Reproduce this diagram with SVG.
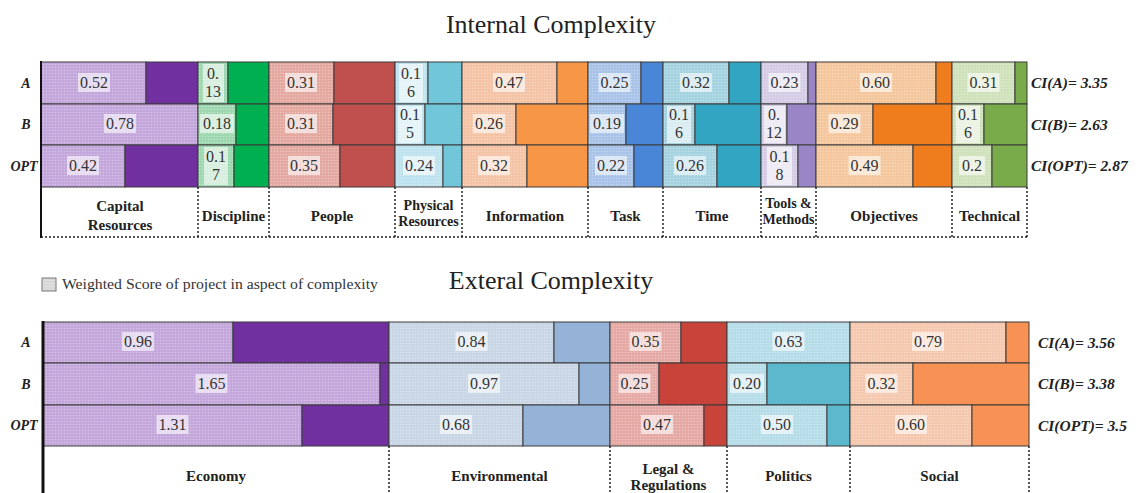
<svg xmlns="http://www.w3.org/2000/svg" width="1145" height="493" viewBox="0 0 1145 493">
<defs>
<style>
.s{stroke:#3a3a3a;stroke-width:1}
.hl{fill:#ffffff;fill-opacity:.6}
.v{font-family:"Liberation Serif","Times New Roman",serif;font-size:16px;fill:#333;text-anchor:middle}
.cat{font-family:"Liberation Serif","Times New Roman",serif;font-size:15px;font-weight:bold;fill:#222;text-anchor:middle}
.sm{font-size:14px}
.rl{font-family:"Liberation Serif","Times New Roman",serif;font-size:14px;font-weight:bold;font-style:italic;fill:#222;text-anchor:middle}
.ci{font-family:"Liberation Serif","Times New Roman",serif;font-size:15.5px;font-weight:bold;font-style:italic;fill:#222}
.ttl{font-family:"Liberation Serif","Times New Roman",serif;font-size:26px;fill:#222;text-anchor:middle}
.dot{stroke:#222;stroke-width:1.5;stroke-dasharray:2 2;fill:none}
</style>
<pattern id="pCap" width="3" height="3" patternUnits="userSpaceOnUse"><rect width="3" height="3" fill="#c4a8dc"/><circle cx="1.5" cy="1.5" r=".6" fill="#fff" fill-opacity=".45"/></pattern>
<pattern id="pDis" width="3" height="3" patternUnits="userSpaceOnUse"><rect width="3" height="3" fill="#9fd8b0"/><circle cx="1.5" cy="1.5" r=".6" fill="#fff" fill-opacity=".45"/></pattern>
<pattern id="pPeo" width="3" height="3" patternUnits="userSpaceOnUse"><rect width="3" height="3" fill="#e4aaa2"/><circle cx="1.5" cy="1.5" r=".6" fill="#fff" fill-opacity=".45"/></pattern>
<pattern id="pPhy" width="3" height="3" patternUnits="userSpaceOnUse"><rect width="3" height="3" fill="#bfe3ee"/><circle cx="1.5" cy="1.5" r=".6" fill="#fff" fill-opacity=".45"/></pattern>
<pattern id="pInf" width="3" height="3" patternUnits="userSpaceOnUse"><rect width="3" height="3" fill="#f5c4a6"/><circle cx="1.5" cy="1.5" r=".6" fill="#fff" fill-opacity=".45"/></pattern>
<pattern id="pTas" width="3" height="3" patternUnits="userSpaceOnUse"><rect width="3" height="3" fill="#a9c4e8"/><circle cx="1.5" cy="1.5" r=".6" fill="#fff" fill-opacity=".45"/></pattern>
<pattern id="pTim" width="3" height="3" patternUnits="userSpaceOnUse"><rect width="3" height="3" fill="#a5d3e0"/><circle cx="1.5" cy="1.5" r=".6" fill="#fff" fill-opacity=".45"/></pattern>
<pattern id="pToo" width="3" height="3" patternUnits="userSpaceOnUse"><rect width="3" height="3" fill="#d5cde6"/><circle cx="1.5" cy="1.5" r=".6" fill="#fff" fill-opacity=".45"/></pattern>
<pattern id="pObj" width="3" height="3" patternUnits="userSpaceOnUse"><rect width="3" height="3" fill="#f5c79e"/><circle cx="1.5" cy="1.5" r=".6" fill="#fff" fill-opacity=".45"/></pattern>
<pattern id="pTec" width="3" height="3" patternUnits="userSpaceOnUse"><rect width="3" height="3" fill="#d0e2bc"/><circle cx="1.5" cy="1.5" r=".6" fill="#fff" fill-opacity=".45"/></pattern>
<pattern id="pEnv" width="3" height="3" patternUnits="userSpaceOnUse"><rect width="3" height="3" fill="#c9d6e6"/><circle cx="1.5" cy="1.5" r=".6" fill="#fff" fill-opacity=".45"/></pattern>
<pattern id="pLeg" width="3" height="3" patternUnits="userSpaceOnUse"><rect width="3" height="3" fill="#e6aaa6"/><circle cx="1.5" cy="1.5" r=".6" fill="#fff" fill-opacity=".45"/></pattern>
<pattern id="pPol" width="3" height="3" patternUnits="userSpaceOnUse"><rect width="3" height="3" fill="#b6dde8"/><circle cx="1.5" cy="1.5" r=".6" fill="#fff" fill-opacity=".45"/></pattern>
<pattern id="pSoc" width="3" height="3" patternUnits="userSpaceOnUse"><rect width="3" height="3" fill="#f5c9b0"/><circle cx="1.5" cy="1.5" r=".6" fill="#fff" fill-opacity=".45"/></pattern>
<pattern id="pLeg2" width="3" height="3" patternUnits="userSpaceOnUse"><rect width="3" height="3" fill="#d8d8d8"/><circle cx="1.5" cy="1.5" r=".6" fill="#fff" fill-opacity=".6"/></pattern>
</defs>
<rect width="1145" height="493" fill="#fff"/>

<text class="ttl" x="551" y="33">Internal Complexity</text>
<text class="ttl" x="551" y="289">Exteral Complexity</text>

<g id="legend">
<rect x="42" y="278" width="14" height="13" fill="url(#pLeg2)" stroke="#777" stroke-width="1"/>
<text x="62" y="289" font-family="'Liberation Serif','Times New Roman',serif" font-size="15" fill="#333" textLength="316" lengthAdjust="spacingAndGlyphs">Weighted Score of project in aspect of complexity</text>
</g>

<g id="row-labels">
<text class="rl" x="26" y="88">A</text>
<text class="rl" x="26" y="129">B</text>
<text class="rl" x="24" y="171">OPT</text>
<text class="rl" x="26" y="347">A</text>
<text class="rl" x="26" y="389">B</text>
<text class="rl" x="24" y="430">OPT</text>
</g>

<g id="ci-labels">
<text class="ci" x="1031" y="88">CI(A)= 3.35</text>
<text class="ci" x="1031" y="130">CI(B)= 2.63</text>
<text class="ci" x="1031" y="171">CI(OPT)= 2.87</text>
<text class="ci" x="1038" y="348">CI(A)= 3.56</text>
<text class="ci" x="1038" y="389">CI(B)= 3.38</text>
<text class="ci" x="1038" y="431">CI(OPT)= 3.5</text>
</g>

<!-- Internal complexity -->
<g id="capital-resources">
<rect class="s" x="41" y="62" width="105" height="42" fill="url(#pCap)"/><rect class="s" x="146" y="62" width="52" height="42" fill="#7030a0"/>
<rect class="s" x="41" y="104" width="157" height="41" fill="url(#pCap)"/>
<rect class="s" x="41" y="145" width="84" height="42" fill="url(#pCap)"/><rect class="s" x="125" y="145" width="73" height="42" fill="#7030a0"/>
<rect class="hl" x="78" y="73" width="32" height="19"/><text class="v" x="94" y="88">0.52</text>
<rect class="hl" x="104" y="114" width="32" height="19"/><text class="v" x="120" y="129">0.78</text>
<rect class="hl" x="67" y="156" width="32" height="19"/><text class="v" x="83" y="171">0.42</text>
<text class="cat" x="120" y="211">Capital</text><text class="cat" x="120" y="230">Resources</text>
</g>

<g id="discipline">
<rect class="s" x="198" y="62" width="30" height="42" fill="url(#pDis)"/><rect class="s" x="228" y="62" width="41" height="42" fill="#00b050"/>
<rect class="s" x="198" y="104" width="38" height="41" fill="url(#pDis)"/><rect class="s" x="236" y="104" width="33" height="41" fill="#00b050"/>
<rect class="s" x="198" y="145" width="36" height="42" fill="url(#pDis)"/><rect class="s" x="234" y="145" width="35" height="42" fill="#00b050"/>
<rect class="hl" x="203" y="64" width="21" height="38"/><text class="v" x="213" y="79">0.</text><text class="v" x="213" y="97">13</text>
<rect class="hl" x="200" y="114" width="34" height="19"/><text class="v" x="217" y="129">0.18</text>
<rect class="hl" x="204" y="147" width="24" height="38"/><text class="v" x="216" y="162">0.1</text><text class="v" x="216" y="180">7</text>
<text class="cat" x="233.5" y="221">Discipline</text>
</g>

<g id="people">
<rect class="s" x="269" y="62" width="65" height="42" fill="url(#pPeo)"/><rect class="s" x="334" y="62" width="61" height="42" fill="#c0504d"/>
<rect class="s" x="269" y="104" width="64" height="41" fill="url(#pPeo)"/><rect class="s" x="333" y="104" width="62" height="41" fill="#c0504d"/>
<rect class="s" x="269" y="145" width="71" height="42" fill="url(#pPeo)"/><rect class="s" x="340" y="145" width="55" height="42" fill="#c0504d"/>
<rect class="hl" x="285" y="73" width="32" height="19"/><text class="v" x="301" y="88">0.31</text>
<rect class="hl" x="285" y="114" width="32" height="19"/><text class="v" x="301" y="129">0.31</text>
<rect class="hl" x="288" y="156" width="32" height="19"/><text class="v" x="304" y="171">0.35</text>
<text class="cat" x="332" y="221">People</text>
</g>

<g id="physical-resources">
<rect class="s" x="395" y="62" width="33" height="42" fill="url(#pPhy)"/><rect class="s" x="428" y="62" width="34" height="42" fill="#72c6da"/>
<rect class="s" x="395" y="104" width="30" height="41" fill="url(#pPhy)"/><rect class="s" x="425" y="104" width="37" height="41" fill="#72c6da"/>
<rect class="s" x="395" y="145" width="48" height="42" fill="url(#pPhy)"/><rect class="s" x="443" y="145" width="19" height="42" fill="#72c6da"/>
<rect class="hl" x="399" y="64" width="24" height="38"/><text class="v" x="411" y="79">0.1</text><text class="v" x="411" y="97">6</text>
<rect class="hl" x="398" y="106" width="24" height="37"/><text class="v" x="410" y="120">0.1</text><text class="v" x="410" y="138">5</text>
<rect class="hl" x="403" y="156" width="32" height="19"/><text class="v" x="419" y="171">0.24</text>
<text class="cat sm" x="428.5" y="210">Physical</text><text class="cat sm" x="428.5" y="226">Resources</text>
</g>

<g id="information">
<rect class="s" x="462" y="62" width="95" height="42" fill="url(#pInf)"/><rect class="s" x="557" y="62" width="31" height="42" fill="#f79646"/>
<rect class="s" x="462" y="104" width="54" height="41" fill="url(#pInf)"/><rect class="s" x="516" y="104" width="72" height="41" fill="#f79646"/>
<rect class="s" x="462" y="145" width="65" height="42" fill="url(#pInf)"/><rect class="s" x="527" y="145" width="61" height="42" fill="#f79646"/>
<rect class="hl" x="493" y="73" width="32" height="19"/><text class="v" x="509" y="88">0.47</text>
<rect class="hl" x="473" y="114" width="32" height="19"/><text class="v" x="489" y="129">0.26</text>
<rect class="hl" x="478" y="156" width="32" height="19"/><text class="v" x="494" y="171">0.32</text>
<text class="cat" x="525" y="221">Information</text>
</g>

<g id="task">
<rect class="s" x="588" y="62" width="53" height="42" fill="url(#pTas)"/><rect class="s" x="641" y="62" width="22" height="42" fill="#4a86d8"/>
<rect class="s" x="588" y="104" width="38" height="41" fill="url(#pTas)"/><rect class="s" x="626" y="104" width="37" height="41" fill="#4a86d8"/>
<rect class="s" x="588" y="145" width="46" height="42" fill="url(#pTas)"/><rect class="s" x="634" y="145" width="29" height="42" fill="#4a86d8"/>
<rect class="hl" x="598.5" y="73" width="32" height="19"/><text class="v" x="614.5" y="88">0.25</text>
<rect class="hl" x="590" y="114" width="34" height="19"/><text class="v" x="607" y="129">0.19</text>
<rect class="hl" x="595" y="156" width="32" height="19"/><text class="v" x="611" y="171">0.22</text>
<text class="cat" x="625.5" y="221">Task</text>
</g>

<g id="time">
<rect class="s" x="663" y="62" width="66" height="42" fill="url(#pTim)"/><rect class="s" x="729" y="62" width="32" height="42" fill="#31a5c2"/>
<rect class="s" x="663" y="104" width="32" height="41" fill="url(#pTim)"/><rect class="s" x="695" y="104" width="66" height="41" fill="#31a5c2"/>
<rect class="s" x="663" y="145" width="54" height="42" fill="url(#pTim)"/><rect class="s" x="717" y="145" width="44" height="42" fill="#31a5c2"/>
<rect class="hl" x="680" y="73" width="32" height="19"/><text class="v" x="696" y="88">0.32</text>
<rect class="hl" x="667" y="106" width="24" height="37"/><text class="v" x="679" y="120">0.1</text><text class="v" x="679" y="138">6</text>
<rect class="hl" x="674" y="156" width="32" height="19"/><text class="v" x="690" y="171">0.26</text>
<text class="cat" x="712" y="221">Time</text>
</g>

<g id="tools-methods">
<rect class="s" x="761" y="62" width="47" height="42" fill="url(#pToo)"/><rect class="s" x="808" y="62" width="8" height="42" fill="#9a86c6"/>
<rect class="s" x="761" y="104" width="26" height="41" fill="url(#pToo)"/><rect class="s" x="787" y="104" width="29" height="41" fill="#9a86c6"/>
<rect class="s" x="761" y="145" width="37" height="42" fill="url(#pToo)"/><rect class="s" x="798" y="145" width="18" height="42" fill="#9a86c6"/>
<rect class="hl" x="768.5" y="73" width="32" height="19"/><text class="v" x="784.5" y="88">0.23</text>
<rect class="hl" x="764" y="106" width="21" height="37"/><text class="v" x="774" y="120">0.</text><text class="v" x="774" y="138">12</text>
<rect class="hl" x="767" y="147" width="25" height="38"/><text class="v" x="779.5" y="162">0.1</text><text class="v" x="779.5" y="180">8</text>
<text class="cat sm" x="788.5" y="208">Tools &amp;</text><text class="cat sm" x="788.5" y="224">Methods</text>
</g>

<g id="objectives">
<rect class="s" x="816" y="62" width="120" height="42" fill="url(#pObj)"/><rect class="s" x="936" y="62" width="16" height="42" fill="#f07d1d"/>
<rect class="s" x="816" y="104" width="57" height="41" fill="url(#pObj)"/><rect class="s" x="873" y="104" width="79" height="41" fill="#f07d1d"/>
<rect class="s" x="816" y="145" width="97" height="42" fill="url(#pObj)"/><rect class="s" x="913" y="145" width="39" height="42" fill="#f07d1d"/>
<rect class="hl" x="860" y="73" width="32" height="19"/><text class="v" x="876" y="88">0.60</text>
<rect class="hl" x="828.5" y="114" width="32" height="19"/><text class="v" x="844.5" y="129">0.29</text>
<rect class="hl" x="848.5" y="156" width="32" height="19"/><text class="v" x="864.5" y="171">0.49</text>
<text class="cat" x="884" y="221">Objectives</text>
</g>

<g id="technical">
<rect class="s" x="952" y="62" width="63" height="42" fill="url(#pTec)"/><rect class="s" x="1015" y="62" width="12" height="42" fill="#7aab4b"/>
<rect class="s" x="952" y="104" width="32" height="41" fill="url(#pTec)"/><rect class="s" x="984" y="104" width="43" height="41" fill="#7aab4b"/>
<rect class="s" x="952" y="145" width="40" height="42" fill="url(#pTec)"/><rect class="s" x="992" y="145" width="35" height="42" fill="#7aab4b"/>
<rect class="hl" x="967.5" y="73" width="32" height="19"/><text class="v" x="983.5" y="88">0.31</text>
<rect class="hl" x="956" y="106" width="24" height="37"/><text class="v" x="968" y="120">0.1</text><text class="v" x="968" y="138">6</text>
<rect class="hl" x="959" y="156" width="26" height="19"/><text class="v" x="972" y="171">0.2</text>
<text class="cat" x="989.5" y="221">Technical</text>
</g>

<!-- External complexity -->
<g id="economy">
<rect class="s" x="43" y="322" width="190" height="41" fill="url(#pCap)"/><rect class="s" x="233" y="322" width="156" height="41" fill="#7030a0"/>
<rect class="s" x="43" y="363" width="337" height="42" fill="url(#pCap)"/><rect class="s" x="380" y="363" width="9" height="42" fill="#7030a0"/>
<rect class="s" x="43" y="405" width="259" height="41" fill="url(#pCap)"/><rect class="s" x="302" y="405" width="87" height="41" fill="#7030a0"/>
<rect class="hl" x="122" y="332" width="32" height="19"/><text class="v" x="138" y="347">0.96</text>
<rect class="hl" x="195.5" y="374" width="32" height="19"/><text class="v" x="211.5" y="389">1.65</text>
<rect class="hl" x="156.5" y="415" width="32" height="19"/><text class="v" x="172.5" y="430">1.31</text>
<text class="cat" x="216" y="481">Economy</text>
</g>

<g id="environmental">
<rect class="s" x="389" y="322" width="165" height="41" fill="url(#pEnv)"/><rect class="s" x="554" y="322" width="56" height="41" fill="#95b3d7"/>
<rect class="s" x="389" y="363" width="190" height="42" fill="url(#pEnv)"/><rect class="s" x="579" y="363" width="31" height="42" fill="#95b3d7"/>
<rect class="s" x="389" y="405" width="134" height="41" fill="url(#pEnv)"/><rect class="s" x="523" y="405" width="87" height="41" fill="#95b3d7"/>
<rect class="hl" x="455.5" y="332" width="32" height="19"/><text class="v" x="471.5" y="347">0.84</text>
<rect class="hl" x="468" y="374" width="32" height="19"/><text class="v" x="484" y="389">0.97</text>
<rect class="hl" x="440" y="415" width="32" height="19"/><text class="v" x="456" y="430">0.68</text>
<text class="cat" x="499.5" y="481">Environmental</text>
</g>

<g id="legal-regulations">
<rect class="s" x="610" y="322" width="71" height="41" fill="url(#pLeg)"/><rect class="s" x="681" y="322" width="46" height="41" fill="#c8443a"/>
<rect class="s" x="610" y="363" width="49" height="42" fill="url(#pLeg)"/><rect class="s" x="659" y="363" width="68" height="42" fill="#c8443a"/>
<rect class="s" x="610" y="405" width="94" height="41" fill="url(#pLeg)"/><rect class="s" x="704" y="405" width="23" height="41" fill="#c8443a"/>
<rect class="hl" x="629.5" y="332" width="32" height="19"/><text class="v" x="645.5" y="347">0.35</text>
<rect class="hl" x="618.5" y="374" width="32" height="19"/><text class="v" x="634.5" y="389">0.25</text>
<rect class="hl" x="641" y="415" width="32" height="19"/><text class="v" x="657" y="430">0.47</text>
<text class="cat" x="668.5" y="474">Legal &amp;</text><text class="cat" x="668.5" y="490">Regulations</text>
</g>

<g id="politics">
<rect class="s" x="727" y="322" width="123" height="41" fill="url(#pPol)"/>
<rect class="s" x="727" y="363" width="40" height="42" fill="url(#pPol)"/><rect class="s" x="767" y="363" width="83" height="42" fill="#5bb8cd"/>
<rect class="s" x="727" y="405" width="100" height="41" fill="url(#pPol)"/><rect class="s" x="827" y="405" width="23" height="41" fill="#5bb8cd"/>
<rect class="hl" x="772.5" y="332" width="32" height="19"/><text class="v" x="788.5" y="347">0.63</text>
<rect class="hl" x="730" y="374" width="34" height="19"/><text class="v" x="747" y="389">0.20</text>
<rect class="hl" x="761" y="415" width="32" height="19"/><text class="v" x="777" y="430">0.50</text>
<text class="cat" x="788.5" y="481">Politics</text>
</g>

<g id="social">
<rect class="s" x="850" y="322" width="156" height="41" fill="url(#pSoc)"/><rect class="s" x="1006" y="322" width="23" height="41" fill="#f79254"/>
<rect class="s" x="850" y="363" width="63" height="42" fill="url(#pSoc)"/><rect class="s" x="913" y="363" width="116" height="42" fill="#f79254"/>
<rect class="s" x="850" y="405" width="122" height="41" fill="url(#pSoc)"/><rect class="s" x="972" y="405" width="57" height="41" fill="#f79254"/>
<rect class="hl" x="912" y="332" width="32" height="19"/><text class="v" x="928" y="347">0.79</text>
<rect class="hl" x="865.5" y="374" width="32" height="19"/><text class="v" x="881.5" y="389">0.32</text>
<rect class="hl" x="895" y="415" width="32" height="19"/><text class="v" x="911" y="430">0.60</text>
<text class="cat" x="939.5" y="481">Social</text>
</g>

<g id="connectors">
<line x1="41" y1="61" x2="41" y2="238" stroke="#111" stroke-width="2"/>
<line x1="41" y1="237" x2="1027" y2="237" class="dot" stroke-width="2.5"/>
<path class="dot" d="M198 187V237M269 187V237M395 187V237M462 187V237M588 187V237M663 187V237M761 187V237M816 187V237M952 187V237M1027 187V237"/>
<line x1="43" y1="321" x2="43" y2="493" stroke="#111" stroke-width="3"/>
<path class="dot" d="M389 446V493M610 446V493M727 446V493M850 446V493M1029 446V493"/>
</g>
</svg>
